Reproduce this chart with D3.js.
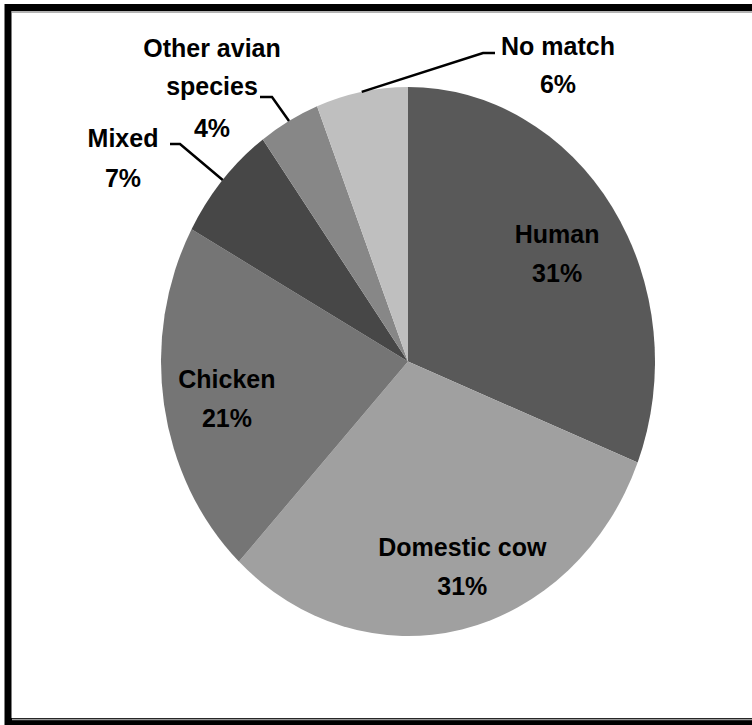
<!DOCTYPE html>
<html>
<head>
<meta charset="utf-8">
<script src="https://cdn.jsdelivr.net/npm/d3@7"></script>
<style>
  html, body { margin: 0; padding: 0; background: #fff; }
  svg { display: block; }
  text { font-family: "Liberation Sans", Arial, sans-serif; font-weight: bold; font-size: 25px; fill: #000; }
</style>
</head>
<body>
<svg id="chart" width="752" height="725"></svg>
<script>
// Blood-meal sources, percent of samples
const categories = ["Human", "Domestic cow", "Chicken", "Mixed", "Other avian species", "No match"];
const values = [31, 31, 21, 7, 4, 6];
const percentLabels = ["31%", "31%", "21%", "7%", "4%", "6%"];
const sliceColors = ["#595959", "#a0a0a0", "#757575", "#474747", "#878787", "#bfbfbf"];
// Label text lines for each slice (category name wrapped, then percentage)
const labelLines = [
  ["Human"], ["Domestic cow"], ["Chicken"], ["Mixed"], ["Other avian", "species"], ["No match"]
];

const svg = d3.select("#chart");

// frame
svg.append("rect").attr("x", 8).attr("y", 7.5).attr("width", 760).attr("height", 714)
  .attr("fill", "#fff").attr("stroke", "#000").attr("stroke-width", 7);
svg.append("line").attr("x1", 12).attr("x2", 752).attr("y1", 12).attr("y2", 12)
  .attr("stroke", "#9a9a9a").attr("stroke-width", 1.5);
svg.append("line").attr("x1", 12).attr("x2", 752).attr("y1", 719.5).attr("y2", 719.5)
  .attr("stroke", "#9a9a9a").attr("stroke-width", 1.5);

const cx = 408, cy = 361.5, rx = 247, ry = 274.5;
const sy = ry / rx;

const pie = d3.pie().sort(null).value(d => d)(values);
const arc = d3.arc().innerRadius(0).outerRadius(rx);

const g = svg.append("g").attr("transform", `translate(${cx},${cy}) scale(1,${sy})`);
g.selectAll("path").data(pie).join("path")
  .attr("d", arc)
  .attr("fill", (d, i) => sliceColors[i]);

// point on the (elliptical) pie at a given angle and radius fraction
function pt(angle, f) {
  return [cx + f * rx * Math.sin(angle), cy - f * ry * Math.cos(angle)];
}
const mid = d => (d.startAngle + d.endAngle) / 2;

const lineGap = 39;

// labels inside the three large slices, with small nudges from the centroid
const insideNudge = [[0, 5], [15, 9], [-3, 6]];
[0, 1, 2].forEach(i => {
  const d = pie[i];
  const [x0, y0c] = pt(mid(d), 0.73);
  const x = x0 + insideNudge[i][0], y = y0c + insideNudge[i][1];
  const lines = labelLines[i].concat(percentLabels[i]);
  const y0 = y - (lines.length - 1) * lineGap / 2 + 9;
  lines.forEach((t, k) => {
    svg.append("text").attr("x", x).attr("y", y0 + k * lineGap)
      .attr("text-anchor", "middle").text(t);
  });
});

// outside labels with leader lines: text centre, first baseline, elbow point
const outside = [
  { i: 3, tx: 123, ty: 147, ex: 180, ey: 144, hx: 170, gaps: [40] },
  { i: 4, tx: 212, ty: 57, ex: 272, ey: 97, hx: 260, gaps: [38, 42] },
  { i: 5, tx: 558, ty: 55, ex: 483, ey: 53, hx: 495, gaps: [38] }
];
outside.forEach(o => {
  const d = pie[o.i];
  const [ax, ay] = pt(mid(d), 1);
  svg.append("polyline")
    .attr("points", [[o.hx, o.ey], [o.ex, o.ey], [ax, ay]].map(p => p.join(",")).join(" "))
    .attr("fill", "none").attr("stroke", "#000").attr("stroke-width", 2.5);
  const lines = labelLines[o.i].concat(percentLabels[o.i]);
  let y = o.ty;
  lines.forEach((t, k) => {
    if (k > 0) y += o.gaps[k - 1];
    svg.append("text").attr("x", o.tx).attr("y", y)
      .attr("text-anchor", "middle").text(t);
  });
});
</script>
</body>
</html>
